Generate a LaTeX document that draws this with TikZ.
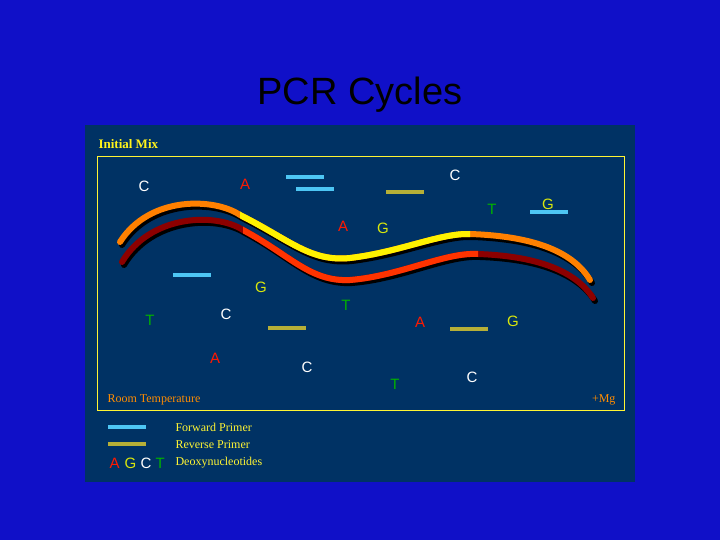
\documentclass[tikz,border=0pt]{standalone}
\usepackage{fontspec}
\setmainfont{Liberation Serif}
\setsansfont{Liberation Sans}
\begin{document}
\begin{tikzpicture}[x=1pt,y=-1pt,
  base/.style={font=\sffamily\fontsize{15}{15}\selectfont},
  wh/.style={base,text=white}, rd/.style={base,text=red!80!orange}, gr/.style={base,text=green!70!black}, yl/.style={base,text=yellow!85!green},
  fwd/.style={line width=4pt,draw=cyan!70!white}, rev/.style={line width=4pt,draw=olive!50!yellow!70!gray},
  leg/.style={anchor=west,text=yellow!80!white,font=\fontsize{12}{12}\selectfont},
  strand/.style={line width=6pt,line cap=round}]
\definecolor{slide}{RGB}{16,16,200}
\definecolor{panel}{RGB}{0,50,100}
\fill[slide] (0,0) rectangle (720,540);
\useasboundingbox (0,0) rectangle (720,540);
\fill[panel] (85,125) rectangle (635,482);
\draw[yellow!80!white,line width=0.8pt] (97,156) rectangle (624,410);
\node[font=\sffamily\fontsize{38}{38}\selectfont] (title) at (360,95) {PCR Cycles};
\node[anchor=west,text=yellow!90!white,font=\bfseries\fontsize{13}{13}\selectfont] (mix) at (95,144) {Initial Mix};
% strands
\def\up{(120,242) .. controls (150,195) and (215,198) .. (240,215) .. controls (290,240) and (310,262) .. (350,258) .. controls (400,252) and (440,233) .. (470,234) .. controls (530,236) and (572,250) .. (590,280)}
\def\lo{(122,262) .. controls (150,215) and (215,212) .. (243,230) .. controls (290,255) and (310,282) .. (350,280) .. controls (400,276) and (445,252) .. (478,254) .. controls (535,256) and (575,270) .. (593,298)}
\draw[strand,black,line width=6pt,shift={(2,3)}] \lo;
\draw[strand,black,line width=6pt,shift={(2,3)}] \up;
\draw[strand,red!55!black] \lo;
\begin{scope}
\clip (243,150) rectangle (478,300);
\draw[strand,red!60!orange!100,line cap=butt] \lo;
\end{scope}
\draw[strand,orange] \up;
\begin{scope}
\clip (240,150) rectangle (470,300);
\draw[strand,yellow,line cap=butt] \up;
\end{scope}
% primers
\coordinate (f1a) at (286,177); \coordinate (f1b) at (324,177);
\coordinate (f2a) at (296,189); \coordinate (f2b) at (334,189);
\coordinate (f3a) at (173,275); \coordinate (f3b) at (211,275);
\coordinate (f4a) at (530,212); \coordinate (f4b) at (568,212);
\coordinate (r1a) at (386,192); \coordinate (r1b) at (424,192);
\coordinate (r2a) at (268,328); \coordinate (r2b) at (306,328);
\coordinate (r3a) at (450,329); \coordinate (r3b) at (488,329);
\draw[fwd] (f1a)--(f1b); \draw[fwd] (f2a)--(f2b); \draw[fwd] (f3a)--(f3b); \draw[fwd] (f4a)--(f4b);
\draw[rev] (r1a)--(r1b); \draw[rev] (r2a)--(r2b); \draw[rev] (r3a)--(r3b);
% nucleotides
\node[wh] (n1) at (144,186) {C};
\node[rd] (n2) at (245,184) {A};
\node[wh] (n3) at (455,175) {C};
\node[gr] (n4) at (492,209) {T};
\node[yl] (n5) at (548,204) {G};
\node[rd] (n6) at (343,226) {A};
\node[yl] (n7) at (383,228) {G};
\node[yl] (n8) at (261,287) {G};
\node[gr] (n9) at (150,320) {T};
\node[wh] (n10) at (226,314) {C};
\node[gr] (n11) at (346,305) {T};
\node[rd] (n12) at (420,322) {A};
\node[yl] (n13) at (513,321) {G};
\node[rd] (n14) at (215,358) {A};
\node[wh] (n15) at (307,367) {C};
\node[gr] (n16) at (395,384) {T};
\node[wh] (n17) at (472,377) {C};
\node[anchor=west,text=orange!90!yellow,font=\fontsize{12}{12}\selectfont] (rt) at (104,400) {Room Temperature};
\node[anchor=east,text=orange!90!yellow,font=\fontsize{12}{12}\selectfont] (mg) at (619,400) {+Mg};
% legend
\coordinate (la) at (108,427); \coordinate (lb) at (146,427);
\coordinate (lc) at (108,444); \coordinate (ld) at (146,444);
\draw[fwd] (la)--(lb); \draw[rev] (lc)--(ld);
\node[leg] (fp) at (172,427) {Forward Primer};
\node[leg] (rp) at (172,445) {Reverse Primer};
\node[leg] (dn) at (172,463) {Deoxynucleotides};
\node[rd,anchor=west] (la1) at (106,463) {A};
\node[yl,anchor=west] (la2) at (121,463) {G};
\node[wh,anchor=west] (la3) at (137,463) {C};
\node[gr,anchor=west] (la4) at (152,463) {T};
\end{tikzpicture}
\end{document}
